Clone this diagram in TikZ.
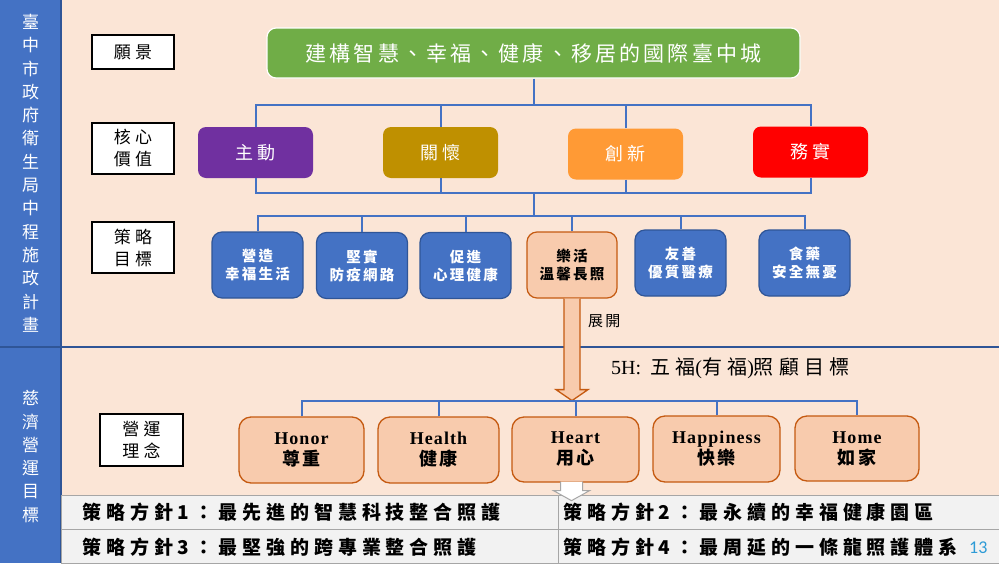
\documentclass[tikz,border=0pt]{standalone}
\usepackage{fontspec}
\setmainfont{Liberation Serif}
\newfontfamily\cjk{Noto Sans CJK TC}
\newfontfamily\cjkw{Noto Sans CJK TC}[LetterSpace=15]
\newfontfamily\cjkt{Noto Sans CJK TC}[LetterSpace=26]
\newfontfamily\numfont{Carlito}
\usetikzlibrary{calc}
\definecolor{peach}{HTML}{FBE5D6}
\definecolor{leftblue}{HTML}{4472C4}
\definecolor{leftborder}{HTML}{2F5597}
\definecolor{lineblue}{HTML}{4472C4}
\definecolor{vgreen}{HTML}{70AD47}
\definecolor{cvpurple}{HTML}{7030A0}
\definecolor{cvgold}{HTML}{BF9000}
\definecolor{cvorange}{HTML}{FF9A35}
\definecolor{cvred}{HTML}{FF0000}
\definecolor{sgblue}{HTML}{4472C4}
\definecolor{sgborder}{HTML}{2F5597}
\definecolor{pkfill}{HTML}{F8CBAD}
\definecolor{pkborder}{HTML}{C55A11}
\definecolor{tabfill}{HTML}{F2F2F2}
\definecolor{tabline}{HTML}{A6A6A6}
\definecolor{pagenum}{HTML}{2E9BD6}
\begin{document}
\begin{tikzpicture}[x=1pt,y=-1pt,
  lbl/.style={draw=black, line width=1.4pt, fill=white, minimum width=82pt, inner sep=0pt, align=center, font=\cjkt\fontsize{17}{22}\selectfont},
  cv/.style={rounded corners=8pt, minimum width=115pt, minimum height=51pt, inner sep=0pt, text=white, font=\cjk\addfontfeatures{LetterSpace=20}\fontsize{18}{20}\selectfont},
  sg/.style={rounded corners=10pt, draw=sgborder, line width=1.2pt, fill=sgblue, minimum width=91pt, minimum height=66pt, inner sep=0pt, text=white, align=center, font=\cjkw\bfseries\fontsize{14.5}{18}\selectfont},
  hh/.style={rounded corners=12pt, draw=pkborder, line width=1.3pt, fill=pkfill, minimum width=125pt, minimum height=66pt, inner sep=0pt, align=center, font=\bfseries\addfontfeature{LetterSpace=6}\fontsize{18}{21}\selectfont},
  conn/.style={draw=lineblue, line width=2pt},
  vtext/.style={text=white, inner sep=0pt, font=\cjk\fontsize{17}{20}\selectfont},
  tabtext/.style={anchor=west, inner sep=0pt, font=\cjkt\bfseries\fontsize{19}{22}\selectfont}
]
\useasboundingbox (0,0) rectangle (999,563);
% backgrounds
\fill[peach] (61,0) rectangle (999,347);
\fill[peach] (61,347) rectangle (999,495);
\fill[leftblue] (0,0) rectangle (61,563);
\draw[leftborder, line width=1.2pt] (61,0) -- (61,563);
\draw[leftborder, line width=1.5pt] (0,347) -- (999,347);
% table
\draw[tabline, fill=tabfill, line width=1pt] (61,495) rectangle (999,529);
\draw[tabline, fill=tabfill, line width=1pt] (61,529) rectangle (999,563);
\draw[tabline, line width=1pt] (558,495) -- (558,563);
% left vertical texts
\foreach \c [count=\i] in {臺,中,市,政,府,衛,生,局,中,程,施,政,計,畫}
  \node[vtext, name=va\i] at (30.5,{22+(\i-1)*23.3}) {\c};
\foreach \c [count=\i] in {慈,濟,營,運,目,標}
  \node[vtext, name=vb\i] at (30.5,{398+(\i-1)*23.5}) {\c};
% labels
\node[lbl, minimum height=34pt] (lvision) at (133,52) {願景};
\node[lbl, minimum height=51pt] (lcore) at (133,148.5) {核心\\價值};
\node[lbl, minimum height=51pt] (lstrat) at (133,247.5) {策略\\目標};
\node[lbl, minimum height=52pt, minimum width=83pt] (lops) at (141.5,440) {營運\\理念};
% vision
\node[rounded corners=9pt, fill=vgreen, draw=white, line width=1.2pt, minimum width=533pt, minimum height=50pt, inner sep=0pt, text=white,
  font=\cjk\addfontfeatures{LetterSpace=15}\fontsize{21}{24}\selectfont] (vision) at (533.5,53) {建構智慧、幸福、健康、移居的國際臺中城};
% core values
\node[cv, fill=cvpurple] (zd) at (255.5,152.5) {主動};
\node[cv, fill=cvgold] (gh) at (440.5,152.5) {關懷};
\node[cv, fill=cvorange] (cx) at (625.5,154) {創新};
\node[cv, fill=cvred] (ws) at (810.5,152) {務實};
\coordinate (bus1) at (0,105);
\coordinate (bus2) at (0,193);
\coordinate (bus3) at (0,216);
\draw[conn] (vision.south) -- (vision.south |- bus1);
\draw[conn] (zd.north) -- (zd.north |- bus1) -- (ws.north |- bus1) -- (ws.north);
\draw[conn] (gh.north) -- (gh.north |- bus1);
\draw[conn] (cx.north) -- (cx.north |- bus1);
\draw[conn] (zd.south) -- (zd.south |- bus2) -- (ws.south |- bus2) -- (ws.south);
\draw[conn] (gh.south) -- (gh.south |- bus2);
\draw[conn] (cx.south) -- (cx.south |- bus2);
\draw[conn] (vision.south |- bus2) -- (vision.south |- bus3);
% strategies
\node[sg] (s1) at (257.5,265) {營造\\幸福生活};
\node[sg] (s2) at (362,265.5) {堅實\\防疫網路};
\node[sg] (s3) at (465.5,265.5) {促進\\心理健康};
\node[sg, fill=pkfill, draw=pkborder, text=black, minimum width=90pt] (s4) at (572,265) {樂活\\溫馨長照};
\node[sg] (s5) at (680.5,263) {友善\\優質醫療};
\node[sg] (s6) at (804.5,263) {食藥\\安全無憂};
\draw[conn] (s1.north) -- (s1.north |- bus3) -- (s6.north |- bus3) -- (s6.north);
\foreach \n in {s2,s3,s4,s5} \draw[conn] (\n.north) -- (\n.north |- bus3);
% big arrow
\draw[draw=pkborder, fill=pkfill, line width=1.3pt, line join=miter]
  ($(s4.south)+(-8,0)$) -- ($(s4.south)+(-8,91)$) -- ($(s4.south)+(-16,91)$) -- ($(s4.south)+(0,102)$)
  -- ($(s4.south)+(16,91)$) -- ($(s4.south)+(8,91)$) -- ($(s4.south)+(8,0)$);
\node[anchor=west, inner sep=0pt, font=\cjkw\fontsize{15}{18}\selectfont] (zk) at (588,321) {展開};
\node[anchor=west, inner sep=0pt, font=\fontsize{20}{22}\selectfont] (fh) at (611,368) {5H:\hspace{9pt}{\cjkt 五福}({\cjkt 有福}){\cjkt 照顧目標}};
% 5H boxes
\node[hh] (h1) at (301.5,450) {Honor\\{\cjkw 尊重}};
\node[hh, minimum width=121pt] (h2) at (438.5,450) {Health\\{\cjkw 健康}};
\node[hh, minimum width=127pt, minimum height=65pt] (h3) at (575.5,449.5) {Heart\\{\cjkw 用心}};
\node[hh, minimum width=127pt] (h4) at (716.5,449) {Happiness\\{\cjkw 快樂}};
\node[hh, minimum width=124pt, minimum height=65pt] (h5) at (857,448.5) {Home\\{\cjkw 如家}};
\coordinate (bus5) at (0,401);
\draw[conn] (h1.north) -- (h1.north |- bus5) -- (h5.north |- bus5) -- (h5.north);
\foreach \n in {h2,h3,h4} \draw[conn] (\n.north) -- (\n.north |- bus5);
% small arrow
\draw[draw=tabline, fill=white, line width=1pt, line join=miter]
  ($(h3.south)+(-15,-1)$) -- ($(h3.south)+(-15,8)$) -- ($(h3.south)+(-22,8)$) -- ($(h3.south)+(-4,18)$)
  -- ($(h3.south)+(14,8)$) -- ($(h3.south)+(7,8)$) -- ($(h3.south)+(7,-1)$);
% table texts
\node[tabtext] (t1) at (82,512) {策略方針1：最先進的智慧科技整合照護};
\node[tabtext] (t2) at (563,512) {策略方針2：最永續的幸福健康園區};
\node[tabtext] (t3) at (82,547) {策略方針3：最堅強的跨專業整合照護};
\node[tabtext] (t4) at (563,547) {策略方針4：最周延的一條龍照護體系};
\node[anchor=west, inner sep=0pt, text=pagenum, font=\numfont\fontsize{18}{20}\selectfont] (pg) at (969,548) {13};
\end{tikzpicture}
\end{document}
